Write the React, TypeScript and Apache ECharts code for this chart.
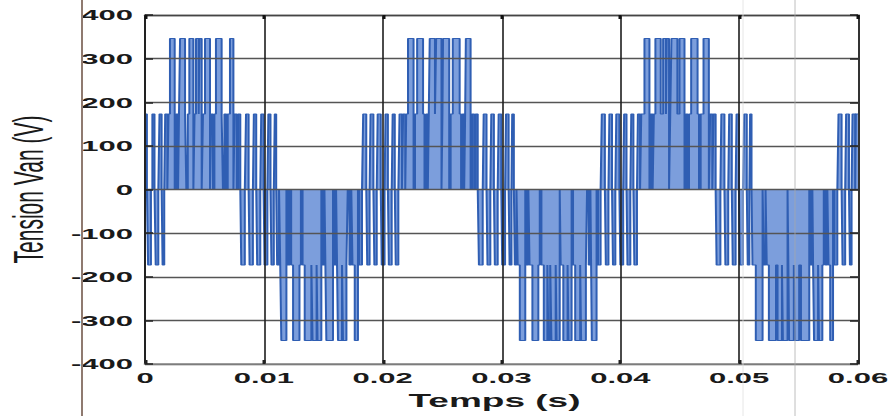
import React, { useEffect, useRef } from "react";
import * as echarts from "echarts";

const xTickLabels = ["0", "0.01", "0.02", "0.03", "0.04", "0.05", "0.06"];
const yTickLabels = ["-400", "-300", "-200", "-100", "0", "100", "200", "300", "400"];
const xTitle = "Temps (s)";
const yTitle = "Tension Van (V)";

// Step waveform: pairs of [time (ms), voltage (V)];
// each voltage holds until the next time.
const wave0to10 = [
  0.0, 173, 0.16, 0, 0.26, -173, 0.5, 0, 0.62, 173, 0.8, 0, 0.9, -173, 1.12, 0, 1.22, 173, 1.4, 0,
  1.48, -173, 1.62, 0, 1.7, 173, 1.88, 0, 1.98, 173, 2.1, 346, 2.5, 0, 2.62, 173, 2.78, 0, 2.86, 173,
  2.95, 346, 3.37, 173, 3.48, 0, 3.6, 173, 3.73, 346, 4.07, 0, 4.17, 173, 4.29, 346, 4.52, 173,
  4.58, 346, 4.77, 0, 4.88, 173, 5.05, 346, 5.47, 0, 5.58, 173, 5.72, 0, 5.84, 173, 5.97, 346,
  6.45, 173, 6.56, 0, 6.68, 173, 6.84, 0, 6.96, 173, 7.15, 346, 7.44, 0, 7.54, 173, 7.72, 0, 7.84, 173,
  8.02, 0, 8.1, -173, 8.4, 0, 8.5, 173, 8.72, 0, 8.8, -173, 9.08, 0, 9.16, 173, 9.36, 0, 9.44, -173,
  9.7, 0, 9.78, 173, 9.98, 0,
];
const wave10to20 = [
  10.06, -173, 10.3, 0, 10.38, 173, 10.56, 0, 10.64, -173, 10.84, 0, 10.92, 173, 11.04, 0, 11.12, -173,
  11.28, 0, 11.38, -173, 11.47, -346, 11.9, 0, 12.02, -173, 12.18, 0, 12.3, -173, 12.46, -346,
  13.0, -173, 13.12, 0, 13.26, -173, 13.44, -346, 14.0, -173, 14.1, -346, 14.44, -173, 14.52, -346,
  14.84, 0, 14.96, -173, 15.1, 0, 15.18, -173, 15.26, -346, 15.82, 0, 15.94, -173, 16.08, 0,
  16.16, -173, 16.24, -346, 16.58, -173, 16.66, -346, 16.95, -173, 17.06, 0, 17.2, -173, 17.36, 0,
  17.46, -173, 17.65, -346, 17.92, 0, 18.04, -173, 18.26, 0, 18.36, 173, 18.62, 0, 18.7, -173,
  18.9, 0, 18.98, 173, 19.22, 0, 19.3, -173, 19.5, 0, 19.58, 173, 19.84, 0, 19.92, -173,
];
const wave20to30 = [
  20.16, 0, 20.24, 173, 20.44, 0, 20.52, -173, 20.76, 0, 20.84, 173, 21.02, 0, 21.1, -173, 21.32, 0,
  21.42, 173, 21.62, 0, 21.72, 173, 21.9, 0, 21.98, 173, 22.13, 346, 22.6, 0, 22.72, 173, 22.9, 346,
  23.4, 173, 23.52, 0, 23.66, 173, 23.8, 0, 23.88, 173, 23.96, 346, 24.4, 173, 24.5, 346, 24.95, 0,
  25.03, 173, 25.08, 346, 25.6, 0, 25.72, 173, 25.9, 346, 26.48, 173, 26.6, 0, 26.72, 173, 26.86, 0,
  26.94, 173, 27.0, 346, 27.4, 0, 27.52, 173, 27.7, 0, 27.82, 173, 28.0, 0, 28.1, -173, 28.42, 0,
  28.5, 173, 28.74, 0, 28.82, -173, 29.06, 0, 29.14, 173, 29.36, 0, 29.44, -173, 29.68, 0, 29.76, 173,
  29.98, 0,
];
const wave30to40 = [
  30.06, -173, 30.3, 0, 30.38, 173, 30.6, 0, 30.68, -173, 30.84, 0, 30.9, 173, 31.04, 0, 31.12, -173,
  31.26, 0, 31.36, -173, 31.54, -346, 32.0, 0, 32.12, -173, 32.26, 0, 32.36, -173, 32.6, -346,
  33.1, -173, 33.22, 0, 33.36, -173, 33.56, -346, 33.86, -173, 33.94, -346, 34.1, -173, 34.2, -346,
  34.56, -173, 34.64, -346, 34.9, 0, 34.98, -173, 35.2, -346, 35.56, -173, 35.64, -346, 35.9, 0,
  36.02, -173, 36.2, -346, 36.62, -173, 36.7, -346, 37.1, -173, 37.2, 0, 37.34, -173, 37.48, 0,
  37.54, -173, 37.6, -346, 38.0, 0, 38.12, -173, 38.34, 0, 38.44, 173, 38.7, 0, 38.78, -173, 39.0, 0,
  39.08, 173, 39.3, 0, 39.38, -173, 39.58, 0, 39.66, 173, 39.92, 0,
];
const wave40to50 = [
  40.0, -173, 40.24, 0, 40.32, 173, 40.52, 0, 40.6, -173, 40.84, 0, 40.92, 173, 41.1, 0, 41.18, -173,
  41.4, 0, 41.48, 173, 41.66, 0, 41.76, 173, 42.03, 346, 42.45, 0, 42.58, 173, 42.72, 0, 42.82, 173,
  42.95, 346, 43.4, 173, 43.6, 346, 43.84, 173, 43.9, 346, 44.1, 0, 44.2, 173, 44.3, 346, 44.8, 173,
  44.98, 346, 45.4, 0, 45.52, 173, 45.66, 0, 45.78, 173, 45.96, 346, 46.5, 173, 46.62, 0, 46.76, 173,
  47.0, 346, 47.45, 0, 47.56, 173, 47.74, 0, 47.84, 173, 48.02, 0, 48.1, -173, 48.42, 0, 48.5, 173,
  48.76, 0, 48.84, -173, 49.08, 0, 49.16, 173, 49.38, 0, 49.46, -173, 49.7, 0, 49.78, 173, 49.98, 0,
];
const wave50to60 = [
  50.06, -173, 50.32, 0, 50.42, 173, 50.64, 0, 50.72, -173, 50.86, 0, 50.92, 173, 51.04, 0, 51.12, -173,
  51.4, -346, 51.97, 0, 52.08, -173, 52.22, 0, 52.32, -173, 52.5, -346, 53.1, -173, 53.23, -346,
  53.6, -173, 53.68, -346, 54.07, 0, 54.14, -173, 54.2, -346, 54.6, -173, 54.68, -346, 55.05, -173,
  55.2, -346, 55.9, 0, 56.02, -173, 56.16, 0, 56.22, -173, 56.3, -346, 56.64, -173, 56.72, -346,
  57.0, -173, 57.12, 0, 57.26, -173, 57.42, 0, 57.52, -173, 57.66, -346, 57.9, 0, 58.02, -173,
  58.26, 0, 58.36, 173, 58.62, 0, 58.7, -173, 58.92, 0, 59.0, 173, 59.24, 0, 59.32, -173, 59.46, 0,
  59.54, 173, 59.76, 0, 59.82, 173, 60.0, 173,
];

const STRETCH = 2; // the reference figure is stretched horizontally
const W = 892;
const H = 416;

export default function App() {
  const ref = useRef<HTMLDivElement>(null);

  useEffect(() => {
    if (!ref.current) return;
    const chart = echarts.init(ref.current, null, { renderer: "svg" });
    const flat = [...wave0to10, ...wave10to20, ...wave20to30, ...wave30to40, ...wave40to50, ...wave50to60];
    const data: number[][] = [];
    for (let i = 0; i < flat.length; i += 2) data.push([flat[i] / 1000, flat[i + 1]]);

    const labelFont = {
      fontFamily: "Liberation Sans, Arial, sans-serif",
      fontWeight: "bold" as const,
      fontSize: 15.5,
      color: "#1a1a1a",
    };

    chart.setOption({
      animation: false,
      backgroundColor: "#ffffff",
      grid: { left: 72.5, right: 17, top: 15, bottom: 52, containLabel: false, outerBoundsMode: "none" },
      xAxis: [
        {
          type: "value",
          position: "bottom",
          min: 0,
          max: 0.06,
          interval: 0.01,
          z: 3,
          name: xTitle,
          nameLocation: "middle",
          nameGap: 25,
          nameTextStyle: {
            fontFamily: "Liberation Sans, Arial, sans-serif",
            fontWeight: "bold",
            fontSize: 18.5,
            color: "#1a1a1a",
            padding: [0, 7, 0, 0],
          },
          axisLine: { show: true, onZero: false, lineStyle: { color: "#8a8a8a", width: 1.5 } },
          axisTick: { show: true, inside: true, length: 4, lineStyle: { color: "#222", width: 1.5 } },
          axisLabel: {
            ...labelFont,
            margin: 6,
            formatter: (v: number) => xTickLabels[Math.round(v / 0.01)] ?? "",
          },
          splitLine: { show: true, lineStyle: { color: "#1e1e1e", width: 0.8 } },
        },
        {
          type: "value",
          position: "top",
          min: 0,
          max: 0.06,
          interval: 0.01,
          z: 3,
          axisLine: { show: true, onZero: false, lineStyle: { color: "#444", width: 1.3 } },
          axisTick: { show: true, inside: true, length: 4, lineStyle: { color: "#111", width: 1.5 } },
          axisLabel: { show: false },
          splitLine: { show: false },
        },
      ],
      yAxis: [
        {
          type: "value",
          position: "left",
          min: -400,
          max: 400,
          interval: 100,
          z: 3,
          name: yTitle,
          nameLocation: "middle",
          nameRotate: 90,
          nameGap: 48,
          nameTextStyle: {
            fontFamily: "Liberation Sans, Arial, sans-serif",
            fontSize: 21,
            color: "#1a1a1a",
          },
          axisLine: { show: true, onZero: false, lineStyle: { color: "#222", width: 1 } },
          axisTick: { show: true, inside: true, length: 4, lineStyle: { color: "#222", width: 1.5 } },
          axisLabel: {
            ...labelFont,
            margin: 6,
            formatter: (v: number) => yTickLabels[Math.round((v + 400) / 100)] ?? "",
          },
          splitLine: { show: true, lineStyle: { color: "#555", width: 1.4 } },
        },
        {
          type: "value",
          position: "right",
          min: -400,
          max: 400,
          interval: 100,
          z: 3,
          axisLine: { show: true, onZero: false, lineStyle: { color: "#333", width: 1 } },
          axisTick: { show: true, inside: true, length: 4, lineStyle: { color: "#222", width: 1.5 } },
          axisLabel: { show: false },
          splitLine: { show: false },
        },
      ],
      series: [
        {
          type: "line",
          data,
          step: "end",
          showSymbol: false,
          symbol: "none",
          z: 2,
          lineStyle: { color: "#2f5eb3", width: 1 },
          areaStyle: { color: "#7c9edc", opacity: 1 },
        },
      ],
      graphic: [
        { type: "line", shape: { x1: 41, y1: 0, x2: 41, y2: H }, style: { stroke: "#8f7a70", lineWidth: 1 }, z: 10 },
        { type: "line", shape: { x1: 371.5, y1: 0, x2: 371.5, y2: H }, style: { stroke: "#dddddd", lineWidth: 0.5 }, z: 10 },
        { type: "line", shape: { x1: 397.5, y1: 0, x2: 397.5, y2: H }, style: { stroke: "#a8a8a8", lineWidth: 0.5 }, z: 10 },
      ],
    });
    return () => chart.dispose();
  }, []);

  return (
    <div
      style={{
        position: "absolute",
        left: 0,
        top: 0,
        width: W,
        height: H,
        overflow: "hidden",
        background: "#fff",
      }}
    >
      <div
        ref={ref}
        style={{
          width: W / STRETCH,
          height: H,
          transform: `scaleX(${STRETCH})`,
          transformOrigin: "0 0",
        }}
      />
    </div>
  );
}
